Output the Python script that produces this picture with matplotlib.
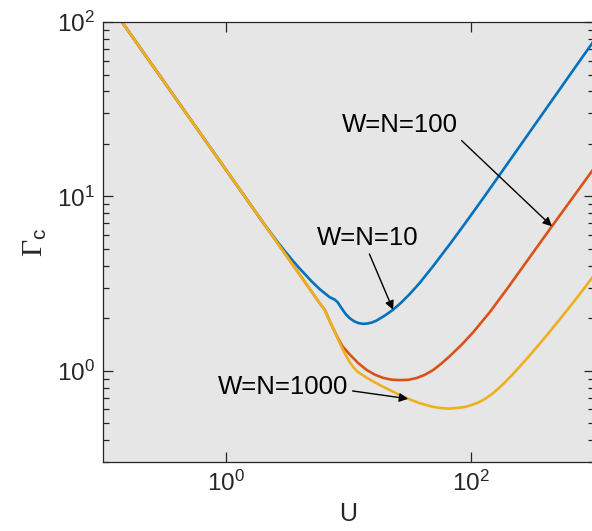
import numpy as np
import matplotlib
matplotlib.use('Agg')
import matplotlib.pyplot as plt
from matplotlib.ticker import LogLocator, NullLocator

plt.rcParams['font.family'] = ['Liberation Sans', 'DejaVu Sans']
plt.rcParams['mathtext.fontset'] = 'custom'
plt.rcParams['mathtext.rm'] = 'Liberation Serif'
plt.rcParams['mathtext.sf'] = 'Liberation Sans'
plt.rcParams['mathtext.it'] = 'Liberation Sans:italic'
plt.rcParams['mathtext.default'] = 'sf'

# Curves (U, Gamma_c)
U_blue = [0.14, 0.5, 1.0, 2.0, 2.5, 3.0, 3.5, 4.0, 5.0, 5.85, 7.07, 7.76, 8.2, 8.8,
          9.5, 10.3, 11.2, 12.2, 13.2, 14.2, 15.5, 17.0, 20.0, 23.2, 27.0, 31.8, 38.4,
          50, 70, 92, 130, 170, 250, 400, 600, 907, 1000]
G_blue = [102, 28.6, 14.3, 7.15, 5.78, 4.91, 4.31, 3.87, 3.27, 2.94, 2.64, 2.56, 2.47, 2.29,
          2.12, 2.0, 1.92, 1.875, 1.86, 1.865, 1.89, 1.94, 2.08, 2.24, 2.46, 2.76, 3.2,
          4.04, 5.52, 7.18, 10.07, 13.17, 19.37, 31.0, 46.5, 70.3, 77.5]

U_orange = [0.14, 0.5, 1.0, 2.0, 4.0, 5.0, 6.0, 6.43, 6.9, 7.5, 8.2, 9.0, 9.6, 10.3,
            11.1, 12.0, 14.1, 16.5, 19.2, 22.5, 26.3, 31, 36.1, 42, 49.2, 57, 67.4, 85,
            104.5, 143, 200, 333, 456, 650, 853, 1000]
G_orange = [102, 28.6, 14.3, 7.15, 3.58, 2.86, 2.38, 2.24, 2.0, 1.76, 1.55, 1.38, 1.31, 1.24,
            1.175, 1.11, 1.012, 0.95, 0.911, 0.89, 0.884, 0.888, 0.909, 0.948, 1.01, 1.095,
            1.215, 1.423, 1.665, 2.174, 2.99, 4.93, 6.71, 9.46, 12.31, 14.36]

U_yellow = [0.14, 0.5, 1.0, 2.0, 4.0, 5.0, 6.0, 6.43, 6.9, 7.5, 8.2, 9.0, 9.6, 10.3,
            11.1, 12.0, 14.1, 16.5, 19.2, 24, 29.9, 38, 49.2, 57, 67.4, 85, 95, 111, 120,
            130, 150, 170, 195, 230, 267, 310, 366, 420, 470, 580, 729, 850, 1000]
G_yellow = [102, 28.6, 14.3, 7.15, 3.58, 2.86, 2.38, 2.24, 2.0, 1.76, 1.53, 1.33, 1.22, 1.12,
            1.04, 0.985, 0.913, 0.858, 0.811, 0.75, 0.697, 0.653, 0.621, 0.611, 0.607,
            0.617, 0.627, 0.652, 0.668, 0.689, 0.74, 0.798, 0.876, 0.99, 1.112, 1.253,
            1.436, 1.612, 1.776, 2.132, 2.613, 3.005, 3.495]

# annotation labels: text, text position (U, Gamma), arrow tip U
labels = ['W=N=100', 'W=N=10', 'W=N=1000']
label_U = [26.3, 14.4, 2.95]
label_G = [25.7, 5.78, 0.81]
tip_U = [458, 23.2, 30.8]

colors = ['#0072BD', '#D95319', '#EDB120']
dark = '#262626'

fig = plt.figure(figsize=(5.92, 5.31), dpi=100)
ax = fig.add_axes([103 / 592, 1 - 462 / 531, 490.5 / 592, 440 / 531])
ax.set_facecolor('#E6E6E6')

curves = [(U_blue, G_blue), (U_orange, G_orange), (U_yellow, G_yellow)]
for (u, g), c in zip(curves, colors):
    ax.plot(u, g, color=c, lw=1.9, solid_joinstyle='round', solid_capstyle='butt')

ax.set_xscale('log')
ax.set_yscale('log')
ax.set_xlim(0.1, 1000)
ax.set_ylim(0.3, 100)

ax.xaxis.set_major_locator(LogLocator(base=100))
ax.xaxis.set_minor_locator(NullLocator())
ax.yaxis.set_major_locator(LogLocator(base=10))
ax.yaxis.set_minor_locator(LogLocator(base=10, subs=np.arange(2, 10)))

ax.tick_params(which='both', direction='in', top=True, right=True, colors=dark,
               labelsize=17.5, pad=6)
ax.tick_params(which='major', length=7, width=0.9)
ax.tick_params(which='minor', length=4.5, width=0.9)
for sp in ax.spines.values():
    sp.set_color(dark)
    sp.set_linewidth(0.9)

ax.set_xlabel('U', fontsize=18, color=dark)
ax.xaxis.set_label_coords(0.5, -0.09)
ax.set_ylabel(r'$\mathrm{\Gamma}_{\mathsf{c}}$', fontsize=21.5, color=dark)
ax.yaxis.set_label_coords(-0.11, 0.5)

# which curve each label points to
targets = [1, 0, 2]
relpos = [(1.0, 0.0), (0.5, 0.0), (1.0, 0.35)]
for txt, lu, lg, tu, k, rp in zip(labels, label_U, label_G, tip_U, targets, relpos):
    u, g = curves[k]
    tg = 10 ** np.interp(np.log10(tu), np.log10(u), np.log10(g))
    ax.annotate(txt, xy=(tu, tg), xytext=(lu, lg), fontsize=18.5, color='black',
                ha='center', va='center',
                arrowprops=dict(arrowstyle='-|>', color='black', lw=1.0,
                                mutation_scale=13, relpos=rp, shrinkA=1, shrinkB=0))

fig.savefig('out.png', dpi=100)
